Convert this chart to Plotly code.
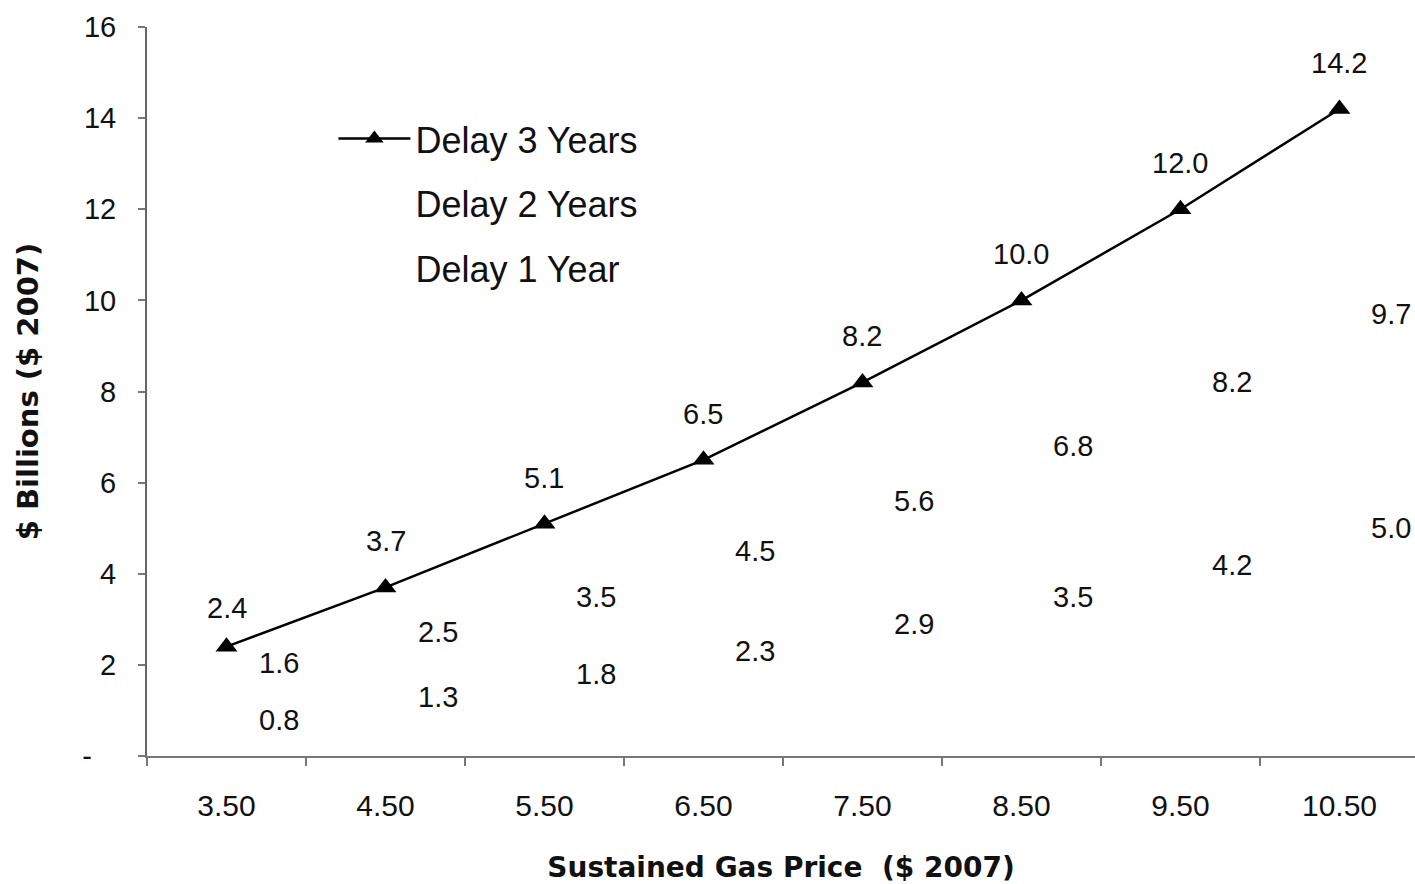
import plotly.graph_objects as go

# gas price categories ($ 2007)
prices = ["3.50", "4.50", "5.50", "6.50", "7.50", "8.50", "9.50", "10.50"]

# $ Billions ($ 2007)
delay_3 = [2.4, 3.7, 5.1, 6.5, 8.2, 10.0, 12.0, 14.2]
delay_2 = [1.6, 2.5, 3.5, 4.5, 5.6, 6.8, 8.2, 9.7]
delay_1 = [0.8, 1.3, 1.8, 2.3, 2.9, 3.5, 4.2, 5.0]

y_ticks = [0, 2, 4, 6, 8, 10, 12, 14, 16]
y_ticktext = ["-\u00a0\u00a0\u00a0", "2", "4", "6", "8", "10", "12", "14", "16"]

FONT = "Liberation Sans, Arial, sans-serif"
TITLE_FONT = "DejaVu Sans, Liberation Sans, Arial, sans-serif"

fig = go.Figure()

# the two shorter delays are drawn in white in the original: only their labels show
fig.add_trace(go.Scatter(
    x=prices, y=delay_1, mode="lines", name="Delay 1 Year",
    line=dict(color="white", width=2), legendrank=3, legendgroup="d1",
))
fig.add_trace(go.Scatter(
    x=prices, y=delay_2, mode="lines", name="Delay 2 Years",
    line=dict(color="white", width=2), legendrank=2, legendgroup="d2",
))
fig.add_trace(go.Scatter(
    x=prices, y=delay_3, mode="lines+markers", name="Delay 3 Years",
    line=dict(color="black", width=2.5),
    marker=dict(symbol="triangle-up", size=19, color="black"),
    legendrank=1, legendgroup="d3",
))

# value labels (x given as category index; numeric-looking strings would be read as positions)
label_font = dict(family=FONT, size=29, color="#111")
nudge = {("d3", 0): -7, ("d2", 0): 20, ("d2", 1): 10}
annotations = []
for i, v in enumerate(delay_3):
    annotations.append(dict(x=i, y=v, text=f"{v:.1f}", showarrow=False,
                            yshift=46 + nudge.get(("d3", i), 0), font=label_font))
for key, series in (("d2", delay_2), ("d1", delay_1)):
    for i, v in enumerate(series):
        annotations.append(dict(x=i, y=v, text=f"{v:.1f}", showarrow=False,
                                xshift=52, yshift=nudge.get((key, i), 0), font=label_font))

fig.update_layout(
    width=1415,
    height=884,
    paper_bgcolor="white",
    plot_bgcolor="white",
    margin=dict(l=147, r=0, t=27, b=128, autoexpand=False),
    font=dict(family=FONT, color="#111"),
    annotations=annotations,
    showlegend=True,
    legend=dict(
        x=0.147, xanchor="left", y=0.888, yanchor="top",
        font=dict(family=FONT, size=36, color="#111"),
        bgcolor="rgba(0,0,0,0)",
        itemwidth=72,
        tracegroupgap=15,
    ),
)

fig.update_xaxes(
    type="category",
    range=[-0.5, 7.475],
    automargin=False,
    showgrid=False,
    showline=True, linecolor="#777", linewidth=2,
    ticks="outside", tickson="boundaries", ticklen=8, tickcolor="#777", tickwidth=2,
    tickfont=dict(family=FONT, size=30, color="#111"),
    ticklabelstandoff=22,
    title=dict(text="Sustained Gas Price\u00a0\u00a0($ 2007)",
               font=dict(family=TITLE_FONT, size=28, color="#111", weight="bold"),
               standoff=36),
)
fig.update_yaxes(
    range=[0, 16],
    automargin=False,
    tickvals=y_ticks, ticktext=y_ticktext,
    showgrid=False, zeroline=False,
    showline=True, linecolor="#666", linewidth=2,
    ticks="outside", ticklen=7, tickcolor="#777", tickwidth=2,
    tickfont=dict(family=FONT, size=29, color="#111"),
    ticklabelstandoff=16,
    title=dict(text="$ Billions ($ 2007)",
               font=dict(family=TITLE_FONT, size=29, color="#111", weight="bold"),
               standoff=35),
)

# drop the default page margin so the figure fills the window exactly
fig.write_html("out.html",
               config={"displayModeBar": False},
               post_script="document.body.style.margin='0';document.body.style.overflow='hidden';")
